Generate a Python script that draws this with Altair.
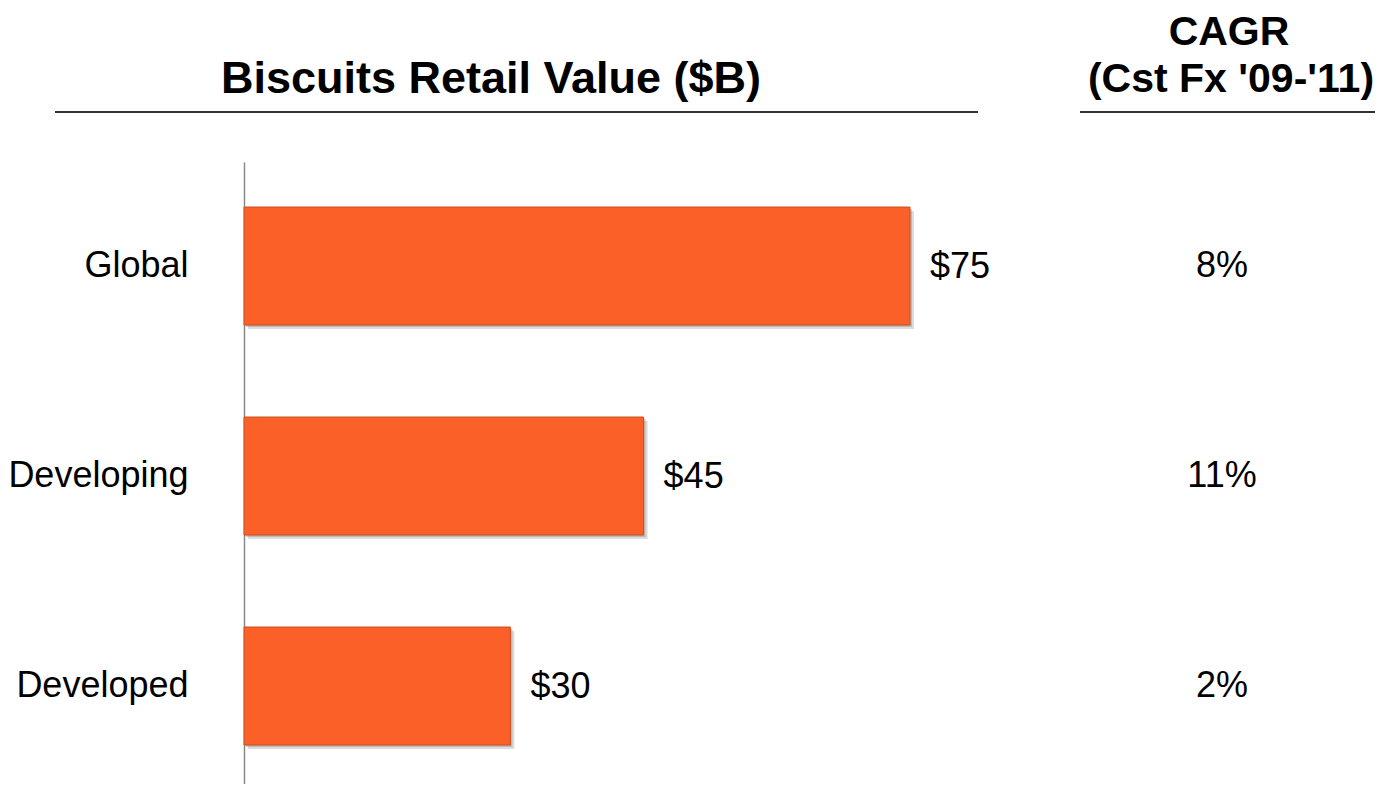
import altair as alt
import pandas as pd

categories = ["Global", "Developing", "Developed"]
values = [75, 45, 30]
cagr = ["8%", "11%", "2%"]

df = pd.DataFrame({"category": categories, "value": values, "cagr": cagr})

FONT = "Liberation Sans"
BAR = "#FA6028"

y_enc = alt.Y(
    "category:N",
    sort=categories,
    scale=alt.Scale(paddingInner=0.438, paddingOuter=0.2, align=0.536),
    axis=alt.Axis(
        title=None, labelFontSize=36, labelFont=FONT, labelColor="black",
        ticks=False, labelPadding=56, labelLimit=0, domainColor="#8a8a8a",
        domainWidth=1.5, grid=False,
    ),
)
x_enc = alt.X("value:Q", scale=alt.Scale(domain=[0, 75], nice=False), axis=None)

base = alt.Chart(df)

shadow1 = base.mark_bar(color="#777", opacity=0.25, xOffset=4, yOffset=4).encode(x=x_enc, y=y_enc)
shadow2 = base.mark_bar(color="#777", opacity=0.35, xOffset=2, yOffset=2).encode(x=x_enc, y=y_enc)
bars = base.mark_bar(color=BAR, stroke="#c9501f", strokeWidth=1).encode(x=x_enc, y=y_enc)

labels = base.transform_calculate(lbl="'$' + datum.value").mark_text(
    align="left", baseline="middle", dx=20, dy=1, fontSize=36, font=FONT, color="black"
).encode(x=x_enc, y=y_enc, text="lbl:N")

cagr_txt = base.mark_text(
    align="center", baseline="middle", dy=0, fontSize=36, font=FONT, color="black"
).encode(x=alt.value(978), y=y_enc, text="cagr:N")

title_txt = alt.Chart(pd.DataFrame({"t": ["Biscuits Retail Value ($B)"]})).mark_text(
    align="center", baseline="middle", fontSize=45, fontWeight="bold", font=FONT, color="black"
).encode(x=alt.value(247), y=alt.value(-83), text="t:N")

cagr_h1 = alt.Chart(pd.DataFrame({"t": ["CAGR"]})).mark_text(
    align="center", baseline="middle", fontSize=41, fontWeight="bold", font=FONT, color="black"
).encode(x=alt.value(985), y=alt.value(-129), text="t:N")

cagr_h2 = alt.Chart(pd.DataFrame({"t": ["(Cst Fx '09-'11)"]})).mark_text(
    align="center", baseline="middle", fontSize=41, fontWeight="bold", font=FONT, color="black"
).encode(x=alt.value(987), y=alt.value(-82), text="t:N")

rule1 = alt.Chart(pd.DataFrame({"a": [0]})).mark_rule(color="#333", strokeWidth=2).encode(
    x=alt.value(-189), x2=alt.value(734), y=alt.value(-50)
)
rule2 = alt.Chart(pd.DataFrame({"a": [0]})).mark_rule(color="#333", strokeWidth=2).encode(
    x=alt.value(836), x2=alt.value(1131), y=alt.value(-50)
)

chart = alt.layer(
    shadow1, shadow2, bars, labels, cagr_txt, title_txt, cagr_h1, cagr_h2, rule1, rule2
).properties(
    width=666, height=622,
    autosize="none",
    padding={"left": 236, "top": 154, "right": 468, "bottom": 0},
    background="white",
).configure_view(stroke=None)

chart.save("out.html", embed_options={"renderer": "svg", "actions": False})
